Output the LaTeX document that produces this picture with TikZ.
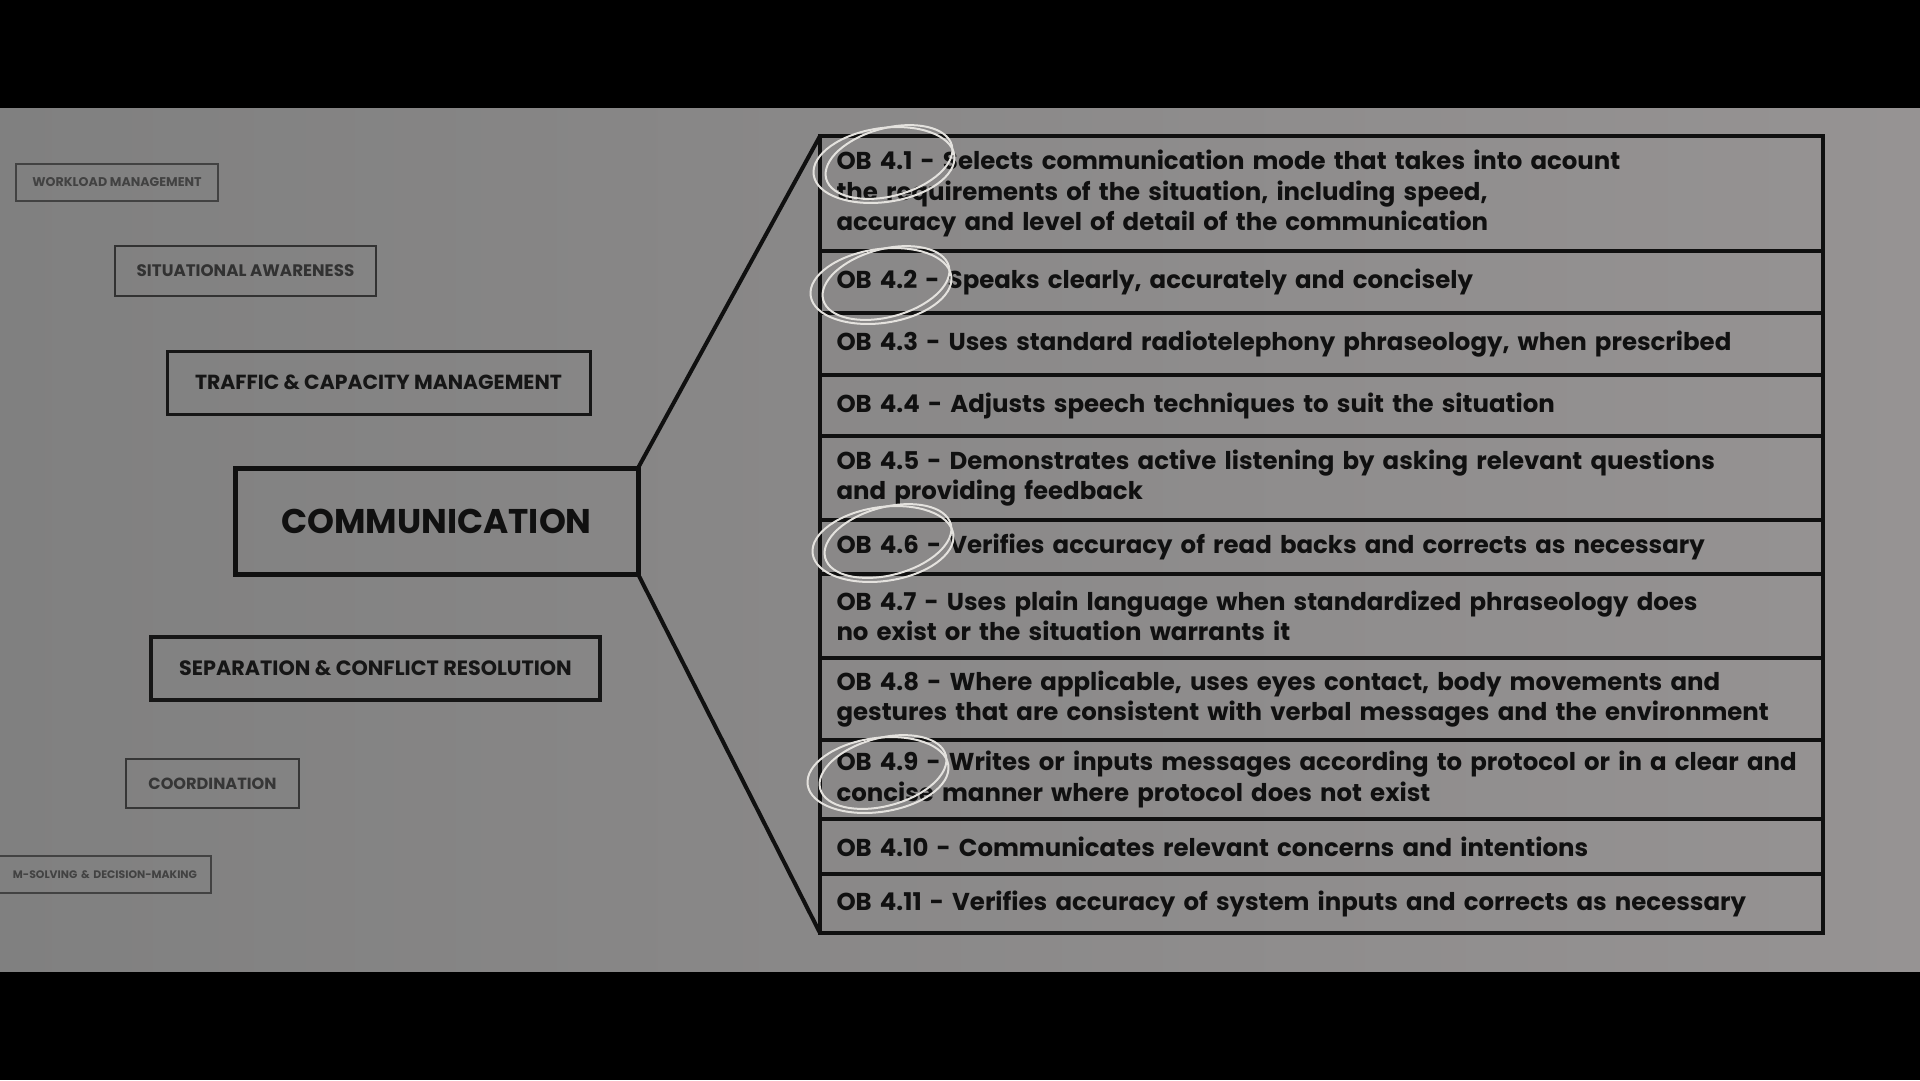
\documentclass[tikz,border=0pt]{standalone}
\usepackage{fontspec}
\newfontfamily\popfont{Poppins}
\usetikzlibrary{positioning, calc}
\definecolor{bgleft}{RGB}{128,128,128}
\definecolor{bgright}{RGB}{150,147,147}
\definecolor{ink}{RGB}{16,16,16}
\definecolor{trafc}{RGB}{22,22,22}
\definecolor{awarec}{RGB}{50,50,50}
\definecolor{coordc}{RGB}{54,54,54}
\definecolor{workc}{RGB}{66,66,66}
\definecolor{probc}{RGB}{66,66,66}
\definecolor{chalk}{RGB}{228,226,222}

\begin{document}
\begin{tikzpicture}[x=0.1mm, y=-0.1mm,
        node distance=0pt,
        skill/.style={rectangle, draw=#1, text=#1, inner sep=0pt, outer sep=0pt},
        obrow/.style={rectangle, draw=ink, line width=0.45mm, outer sep=0pt,
            inner xsep=1.65mm, inner ysep=0pt, text width=97mm, align=left, text=ink,
            font=\popfont\bfseries\fontsize{6.95}{8.6}\selectfont},
        link/.style={draw=ink, line width=0.4mm},
        ring/.style={draw=chalk, line width=0.2mm}
        ]
        \clip (0,0) rectangle (1920,1080);
        \fill[black] (0,0) rectangle (1920,1080);
        \shade[left color=bgleft, right color=bgright] (0,108) rectangle (1920,971);

        \node[skill=workc, line width=0.2mm, minimum width=20.2mm, minimum height=3.7mm,
            font=\popfont\bfseries\fontsize{3.6}{4.5}\selectfont] (work) at (117,182.5) {WORKLOAD MANAGEMENT};
        \node[skill=awarec, line width=0.25mm, minimum width=26.1mm, minimum height=5mm,
            font=\popfont\bfseries\fontsize{4.75}{5.5}\selectfont] (aware) at (245.5,271) {SITUATIONAL AWARENESS};
        \node[skill=trafc, line width=0.3mm, minimum width=42.3mm, minimum height=6.3mm,
            font=\popfont\bfseries\fontsize{5.8}{7}\selectfont] (traffic) at (378.5,382.5) {TRAFFIC \& CAPACITY MANAGEMENT};
        \node[skill=ink, line width=0.5mm, minimum width=40.3mm, minimum height=10.6mm,
            font=\popfont\bfseries\fontsize{9.75}{11}\selectfont] (comm) at (436.5,521) {COMMUNICATION};
        \node[skill=trafc, line width=0.35mm, minimum width=44.9mm, minimum height=6.3mm,
            font=\popfont\bfseries\fontsize{5.9}{7}\selectfont] (sep) at (375.5,668.5) {SEPARATION \& CONFLICT RESOLUTION};
        \node[skill=coordc, line width=0.25mm, minimum width=17.3mm, minimum height=4.9mm,
            font=\popfont\bfseries\fontsize{4.6}{5.5}\selectfont] (coord) at (212.5,783.5) {COORDINATION};
        \node[skill=probc, line width=0.2mm, inner xsep=1.4mm, minimum height=3.7mm, anchor=east,
            text width=21mm, align=right,
            font=\popfont\bfseries\fontsize{3.1}{4}\selectfont] (prob) at (211,874.5) {M-SOLVING \& DECISION-MAKING};

        \node[obrow, minimum height=11.5mm, anchor=north west] (r1) at (820,136)
            {OB 4.1 - Selects communication mode that takes into acount\\the requirements of the situation, including speed,\\accuracy and level of detail of the communication};
        \node[obrow, minimum height=6.2mm, below=of r1] (r2) {OB 4.2 - Speaks clearly, accurately and concisely};
        \node[obrow, minimum height=6.2mm, below=of r2] (r3) {OB 4.3 - Uses standard radiotelephony phraseology, when prescribed};
        \node[obrow, minimum height=6.1mm, below=of r3] (r4) {OB 4.4 - Adjusts speech techniques to suit the situation};
        \node[obrow, minimum height=8.4mm, below=of r4] (r5)
            {OB 4.5 - Demonstrates active listening by asking relevant questions\\and providing feedback};
        \node[obrow, minimum height=5.4mm, below=of r5] (r6) {OB 4.6 - Verifies accuracy of read backs and corrects as necessary};
        \node[obrow, minimum height=8.4mm, below=of r6] (r7)
            {OB 4.7 - Uses plain language when standardized phraseology does\\no exist or the situation warrants it};
        \node[obrow, minimum height=8.2mm, below=of r7] (r8)
            {OB 4.8 - Where applicable, uses eyes contact, body movements and\\gestures that are consistent with verbal messages and the environment};
        \node[obrow, minimum height=7.9mm, below=of r8] (r9)
            {OB 4.9 - Writes or inputs messages according to protocol or in a clear and\\concise manner where protocol does not exist};
        \node[obrow, minimum height=5.5mm, below=of r9] (r10) {OB 4.10 - Communicates relevant concerns and intentions};
        \node[obrow, minimum height=5.9mm, below=of r10] (r11) {OB 4.11 - Verifies accuracy of system inputs and corrects as necessary};

        \draw[link] (comm.north east) -- (r1.north west);
        \draw[link] (comm.south east) -- (r11.south west);

        \foreach \cx/\cy in {884/165, 881/286, 883/544, 878/775} {
            \draw[ring] (\cx,\cy) ellipse [x radius=71, y radius=37, rotate=8];
            \draw[ring] (\cx+5,\cy-3) ellipse [x radius=65, y radius=34, rotate=15];
        }
    \end{tikzpicture}
\end{document}
